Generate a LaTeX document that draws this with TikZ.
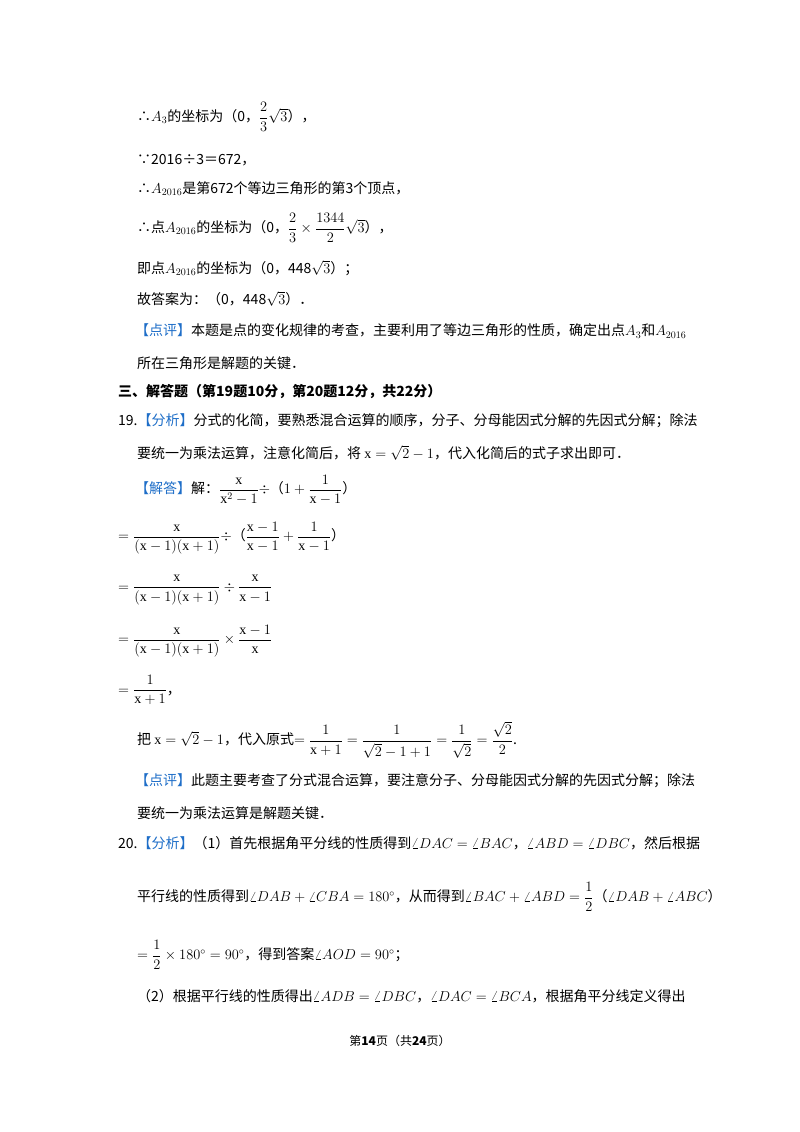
\documentclass[tikz,border=0pt]{standalone}
\usepackage{amsmath}
\usepackage{fontspec}
\setmainfont{Noto Sans CJK SC}
\newfontfamily\lat{Liberation Serif}
\definecolor{tagblue}{RGB}{30,110,200}
\newcommand{\tg}[1]{\textcolor{tagblue}{【#1】}}
\newcommand{\xx}{\text{\lat x}}
\begin{document}
\begin{tikzpicture}[x=1pt,y=1pt,line/.style={anchor=west,inner sep=0pt,font=\fontsize{14}{16}\selectfont}]
\useasboundingbox[fill=white] (0,0) rectangle (800,-1132);
\node[line] (l1) at (137,-117) {∴$A_3$的坐标为（0，$\dfrac{2}{3}\sqrt{3}$），};
\node[line] (l2) at (137,-160) {∵2016÷3＝672，};
\node[line] (l3) at (137,-189) {∴$A_{2016}$是第672个等边三角形的第3个顶点，};
\node[line] (l4) at (137,-228) {∴点$A_{2016}$的坐标为（0，$\dfrac{2}{3}\times\dfrac{1344}{2}\sqrt{3}$），};
\node[line] (l5) at (137,-268) {即点$A_{2016}$的坐标为（0，448$\sqrt{3}$）；};
\node[line] (l6) at (137,-299) {故答案为：（0，448$\sqrt{3}$）．};
\node[line] (l7) at (135,-331) {\tg{点评}本题是点的变化规律的考查，主要利用了等边三角形的性质，确定出点$A_3$和$A_{2016}$};
\node[line] (l8) at (137,-363) {所在三角形是解题的关键．};
\node[line,font=\fontsize{14}{16}\selectfont\bfseries] (l9) at (118,-392) {三、解答题（第19题10分，第20题12分，共22分）};
\node[line] (l10) at (118,-421) {19.\tg{分析}分式的化简，要熟悉混合运算的顺序，分子、分母能因式分解的先因式分解；除法};
\node[line] (l11) at (137,-453) {要统一为乘法运算，注意化简后，将 $\xx=\sqrt{2}-1$，代入化简后的式子求出即可．};
\node[line] (l12) at (135,-490) {\tg{解答}解：$\dfrac{\xx}{\xx^2-1}\div$（$1+\dfrac{1}{\xx-1}$）};
\node[line] (l13) at (118,-538) {$=\dfrac{\xx}{(\xx-1)(\xx+1)}\div$（$\dfrac{\xx-1}{\xx-1}+\dfrac{1}{\xx-1}$）};
\node[line] (l14) at (118,-590) {$=\dfrac{\xx}{(\xx-1)(\xx+1)}\div\dfrac{\xx}{\xx-1}$};
\node[line] (l15) at (118,-641) {$=\dfrac{\xx}{(\xx-1)(\xx+1)}\times\dfrac{\xx-1}{\xx}$};
\node[line] (l16) at (118,-690) {$=\dfrac{1}{\xx+1}$，};
\node[line] (l17) at (137,-740) {把 $\xx=\sqrt{2}-1$，代入原式$=\dfrac{1}{\xx+1}=\dfrac{1}{\sqrt{2}-1+1}=\dfrac{1}{\sqrt{2}}=\dfrac{\sqrt{2}}{2}$.};
\node[line] (l18) at (135,-781) {\tg{点评}此题主要考查了分式混合运算，要注意分子、分母能因式分解的先因式分解；除法};
\node[line] (l19) at (137,-813) {要统一为乘法运算是解题关键．};
\node[line] (l20) at (118,-843) {20.\tg{分析}（1）首先根据角平分线的性质得到$\angle DAC=\angle BAC$，$\angle ABD=\angle DBC$，然后根据};
\node[line] (l21) at (137,-897) {平行线的性质得到$\angle DAB+\angle CBA=180^\circ$，从而得到$\angle BAC+\angle ABD=\dfrac{1}{2}$（$\angle DAB+\angle ABC$）};
\node[line] (l22) at (137,-955) {$=\dfrac{1}{2}\times180^\circ=90^\circ$，得到答案$\angle AOD=90^\circ$；};
\node[line] (l23) at (137,-996) {（2）根据平行线的性质得出$\angle ADB=\angle DBC$，$\angle DAC=\angle BCA$，根据角平分线定义得出};
\node[inner sep=0pt,font=\fontsize{12}{14}\selectfont] (l24) at (400,-1041) {第\textbf{14}页（共\textbf{24}页）};
\end{tikzpicture}
\end{document}
